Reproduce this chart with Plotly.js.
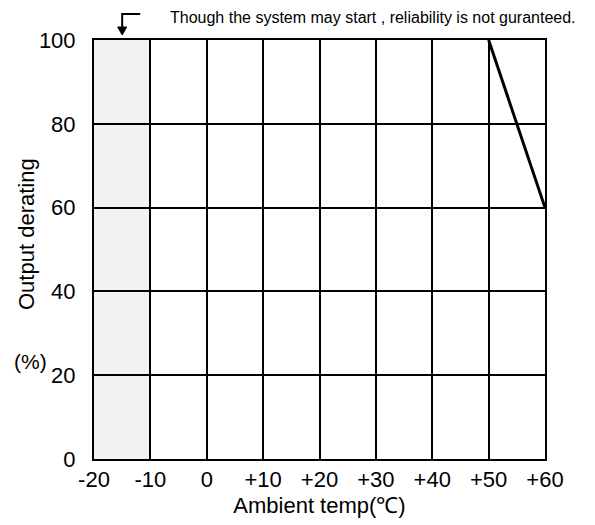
<!DOCTYPE html>
<html>
<head>
<meta charset="utf-8">
<script src="https://cdn.plot.ly/plotly-3.0.1.min.js"></script>
<style>
html,body{margin:0;padding:0;background:#fff;}
#chart{width:595px;height:525px;}
</style>
</head>
<body>
<div id="chart"></div>
<script>
// Data
const tempC = [50, 60];
const derating = [100, 60];
const xTickVals = [-20, -10, 0, 10, 20, 30, 40, 50, 60];
const xTickText = ['-20', '-10', '0', '+10', '+20', '+30', '+40', '+50', '+60'];
const yTickVals = [0, 20, 40, 60, 80, 100];
const unreliableRange = [-20, -10];
const noteText = 'Though the system may start , reliability is not guranteed.';

const FONT = 'Arial, "Liberation Sans", sans-serif';

const trace = {
  x: tempC, y: derating, type: 'scatter', mode: 'lines',
  line: {color: '#000', width: 3}, hoverinfo: 'skip', cliponaxis: false
};

const layout = {
  width: 595, height: 525,
  margin: {l: 94, r: 50, t: 40, b: 66},
  paper_bgcolor: '#fff', plot_bgcolor: '#fff',
  showlegend: false,
  font: {family: FONT, color: '#000', size: 22},
  xaxis: {
    range: [-20, 60], tickvals: xTickVals, ticktext: xTickText,
    showgrid: true, gridcolor: '#000', gridwidth: 2,
    showline: true, linecolor: '#000', linewidth: 2, mirror: true,
    zeroline: false, ticks: '', tickfont: {size: 22, family: FONT},
    title: {text: 'Ambient temp(℃)', font: {size: 22, family: FONT}, standoff: 6},
    fixedrange: true
  },
  yaxis: {
    range: [0, 100], tickvals: yTickVals,
    showgrid: true, gridcolor: '#000', gridwidth: 2,
    showline: true, linecolor: '#000', linewidth: 2, mirror: true,
    zeroline: false, ticks: '', tickfont: {size: 22, family: FONT},
    ticklabelstandoff: 12,
    fixedrange: true
  },
  shapes: [
    {type: 'rect', layer: 'below', xref: 'x', yref: 'y',
     x0: unreliableRange[0], x1: unreliableRange[1], y0: 0, y1: 100,
     fillcolor: '#f2f2f2', line: {width: 0}},
    {type: 'path', xref: 'x', yref: 'paper',
     path: 'M -11.8 1.062 L -15 1.062 L -15 1.03',
     line: {color: '#000', width: 2}},
    {type: 'path', xref: 'x', yref: 'paper',
     path: 'M -15.8 1.031 L -14.2 1.031 L -15 1.012 Z',
     fillcolor: '#000', line: {color: '#000', width: 1}}
  ],
  annotations: [
    {text: noteText, xref: 'paper', yref: 'paper',
     x: (168 - 94) / 451, y: (459 - 17) / 419, xanchor: 'left', yanchor: 'middle',
     showarrow: false, font: {size: 16, family: FONT}},
    {text: 'Output derating', xref: 'paper', yref: 'paper', textangle: -90,
     x: (27 - 94) / 451, y: (459 - 234) / 419, xanchor: 'center', yanchor: 'middle',
     showarrow: false, font: {size: 22, family: FONT}},
    {text: '(%)', xref: 'paper', yref: 'paper',
     x: (30 - 94) / 451, y: (459 - 361) / 419, xanchor: 'center', yanchor: 'middle',
     showarrow: false, font: {size: 21, family: FONT}}
  ]
};

Plotly.newPlot('chart', [trace], layout, {staticPlot: true, displayModeBar: false});
</script>
</body>
</html>
